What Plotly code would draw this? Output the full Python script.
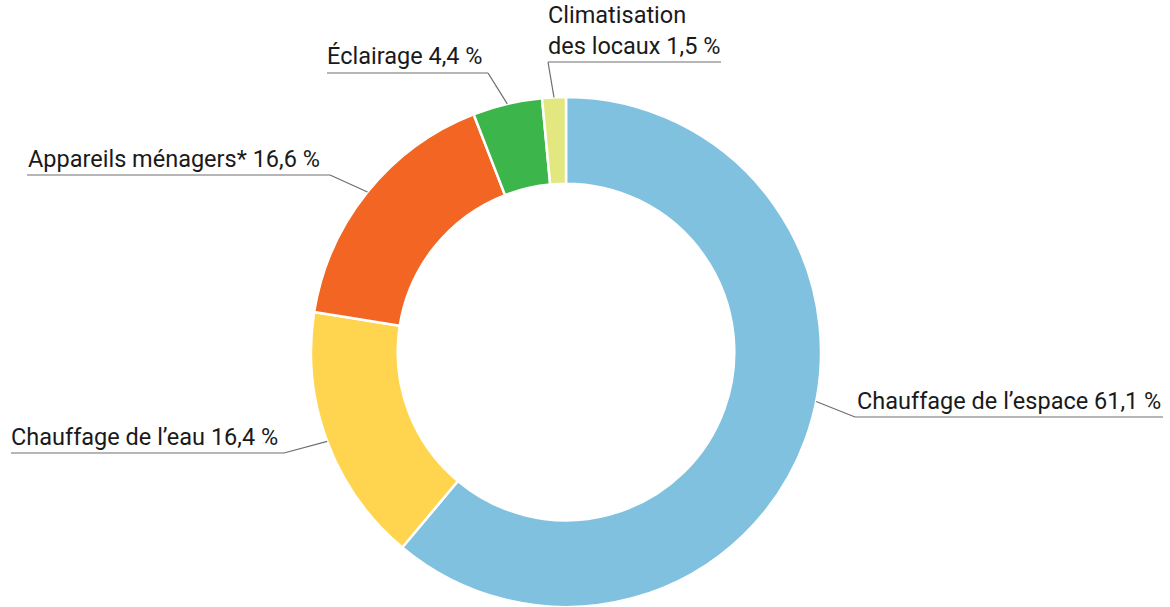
import math
import plotly.graph_objects as go

# ---- data ----
categories = ["Chauffage de l’espace", "Chauffage de l’eau", "Appareils ménagers*", "Éclairage", "Climatisation des locaux"]
values = [61.1, 16.4, 16.6, 4.4, 1.5]
label_texts = ["Chauffage de l’espace 61,1 %", "Chauffage de l’eau 16,4 %", "Appareils ménagers* 16,6 %",
               "Éclairage 4,4 %", "Climatisation<br>des locaux 1,5 %"]
colors = ["#7fc1df", "#ffd54f", "#f26522", "#3cb54a", "#e3e77f"]

# ---- layout constants (pixels) ----
W, H = 1170, 607
CX, CY, R = 566, 352, 255
elbows = [(855, 417), (284, 453), (330, 175), (488, 73), (548, 62)]
line_ends = [1163, 11, 27, 327, 721]
text_x = [855, 9, 26, 325, 546]
angle_override = {0: 101.2}
FONT_SIZE = 23.5

fig = go.Figure(go.Pie(
    labels=categories, values=values, sort=False, direction="clockwise", rotation=0,
    hole=0.66, marker=dict(colors=colors, line=dict(color="white", width=2.5)),
    textinfo="none", hoverinfo="label+percent", showlegend=False,
    domain=dict(x=[(CX - R) / W, (CX + R) / W], y=[1 - (CY + R) / H, 1 - (CY - R) / H]),
))

def px(x):
    return x / W

def py(y):
    return 1 - y / H

total = sum(values)
cum = 0.0
shapes, annotations = [], []
for i, v in enumerate(values):
    mid = (cum + v / 2) / total * 360
    cum += v
    ang = math.radians(angle_override.get(i, mid))
    sx = CX + R * math.sin(ang)
    sy = CY - R * math.cos(ang)
    ex, ey = elbows[i]
    line = dict(color="#6e6e6e", width=1.2)
    shapes.append(dict(type="line", xref="paper", yref="paper", x0=px(sx), y0=py(sy), x1=px(ex), y1=py(ey), line=line))
    shapes.append(dict(type="line", xref="paper", yref="paper", x0=px(ex), y0=py(ey), x1=px(line_ends[i]), y1=py(ey), line=line))
    annotations.append(dict(xref="paper", yref="paper", x=px(text_x[i]), y=py(ey - 0.5),
                            xanchor="left", yanchor="bottom", text=label_texts[i], showarrow=False, align="left",
                            font=dict(family="Roboto", size=FONT_SIZE, color="#1a1a1a")))

fig.update_layout(width=W, height=H, margin=dict(l=0, r=0, t=0, b=0),
                  paper_bgcolor="white", plot_bgcolor="white",
                  shapes=shapes, annotations=annotations)
fig.write_html("out.html", config={"displayModeBar": False},
               post_script="document.body.style.margin='0';")
